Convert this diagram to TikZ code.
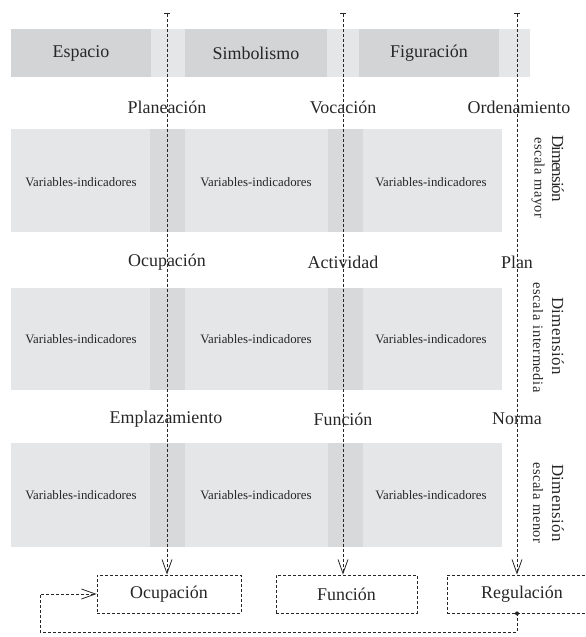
\documentclass[tikz,border=0pt]{standalone}
\usepackage{fontspec}
\setmainfont{Liberation Serif}
\usetikzlibrary{arrows.meta}
\definecolor{gdark}{RGB}{211,212,214}
\definecolor{glight}{RGB}{229,230,232}
\definecolor{gmid}{RGB}{216,217,219}
\definecolor{ink}{RGB}{38,38,38}
\newdimen\lsk
\def\lsp#1#2{\lsk=#1\relax\lspA#2\relax}
\def\lspA#1{\ifx#1\relax\else#1\kern\lsk\expandafter\lspA\fi}
\begin{document}
\begin{tikzpicture}[x=1bp,y=-1bp,
  lbl/.style={font=\fontsize{18}{20}\selectfont, text=ink, inner sep=0},
  var/.style={font=\fontsize{12.9}{14}\selectfont, text=ink, inner sep=0},
  dimA/.style={font=\fontsize{17}{19}\selectfont, text=ink, inner sep=0, rotate=-90},
  dimB/.style={font=\fontsize{14.5}{16}\selectfont, text=ink, inner sep=0, rotate=-90},
  topbox/.style={fill=gdark, inner sep=0, minimum width=140bp, minimum height=48bp},
  dl/.style={draw=ink, line width=0.8bp, dash pattern=on 3bp off 2bp},
  outbox/.style={dl, inner sep=0, minimum height=38bp, font=\fontsize{18}{20}\selectfont, text=ink},
  vee/.style={-{Straight Barb[length=14bp,width=10bp,line width=0.8bp]}},
  flow/.style={{Bar[width=6bp,line width=0.8bp]}-{Straight Barb[length=14bp,width=10bp,line width=0.8bp]}}
]
\useasboundingbox (0,0) rectangle (586,637);
% top band
\fill[glight] (11,29) rectangle (530,77);
\node[topbox, lbl] (esp) at (81,53) {Espacio};
\node[topbox, lbl, minimum width=142bp] (sim) at (256,53) {Simbolismo};
\node[topbox, lbl] (fig) at (429,53) {Figuración};
% rows
\foreach \ya/\yb in {129/232, 288/390, 443/547}{
  \fill[glight] (11,\ya) rectangle (502,\yb);
  \fill[gmid] (150,\ya) rectangle (185,\yb);
  \fill[gmid] (328,\ya) rectangle (363,\yb);
}
\node[var] (v11) at (81,182) {Variables-indicadores};
\node[var] (v12) at (256,182) {Variables-indicadores};
\node[var] (v13) at (431,182) {Variables-indicadores};
\node[var] (v21) at (81,339) {Variables-indicadores};
\node[var] (v22) at (256,339) {Variables-indicadores};
\node[var] (v23) at (431,339) {Variables-indicadores};
\node[var] (v31) at (81,495) {Variables-indicadores};
\node[var] (v32) at (256,495) {Variables-indicadores};
\node[var] (v33) at (431,495) {Variables-indicadores};
% row labels
\node[lbl] (l11) at (167,107) {Planeación};
\node[lbl] (l12) at (343,107) {Vocación};
\node[lbl] (l13) at (519,107) {Ordenamiento};
\node[lbl] (l21) at (167,262) {Ocupación};
\node[lbl] (l22) at (343,262) {Actividad};
\node[lbl] (l23) at (517,262) {Plan};
\node[lbl] (l31) at (166,419) {Emplazamiento};
\node[lbl] (l32) at (343,419) {Función};
\node[lbl] (l33) at (517,419) {Norma};
% dimension labels
\node[dimA] (d1) at (558,168) {\lsp{-1pt}{Dimensión}};
\node[dimB] (e1) at (538,178) {\lsp{0.5pt}{escala~mayor}};
\node[dimA] (d2) at (558,336) {\lsp{0.4pt}{Dimensión}};
\node[dimB] (e2) at (538,338) {\lsp{0.6pt}{escala~intermedia}};
\node[dimA] (d3) at (558,503) {\lsp{0.4pt}{Dimensión}};
\node[dimB] (e3) at (538,503) {\lsp{0.5pt}{escala~menor}};
% output boxes
\node[outbox, minimum width=144bp] (oc) at (169,594) {Ocupación};
\node[outbox, minimum width=141bp] (fu) at (346.5,594) {Función};
\node[outbox, minimum width=150bp] (re) at (522,594) {Regulación};
% vertical flows
\coordinate (t1) at (167,13);
\coordinate (t2) at (343,13);
\coordinate (t3) at (517,13);
\draw[dl, flow] (t1) -- (t1 |- oc.north);
\draw[dl, flow] (t2) -- (t2 |- fu.north);
\draw[dl, flow] (t3) -- (t3 |- re.north);
% feedback
\coordinate (fb0) at (t3 |- re.south);
\coordinate (fb1) at (517,632);
\coordinate (fb2) at (40,632);
\coordinate (fb3) at (40,594);
\fill[ink] (fb0) circle (2bp);
\draw[dl, vee] (fb0) -- (fb1) -- (fb2) -- (fb3) -- (oc.west);
\end{tikzpicture}
\end{document}
